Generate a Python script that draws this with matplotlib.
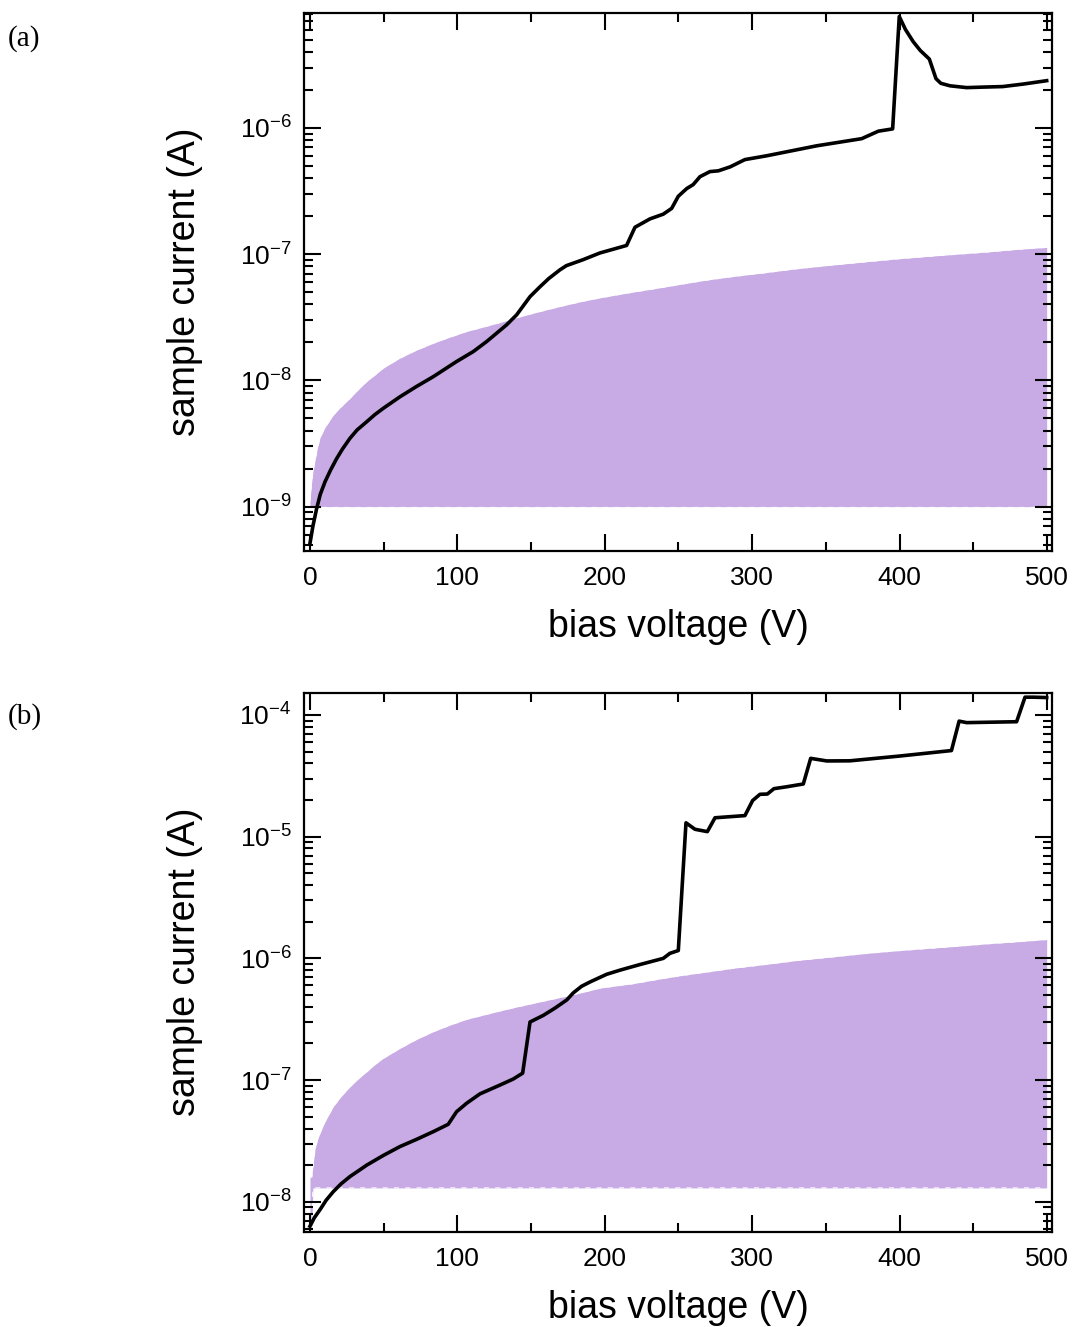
import matplotlib
matplotlib.use("Agg")
import matplotlib.pyplot as plt
from matplotlib import font_manager
from matplotlib.ticker import LogLocator, FixedLocator, FuncFormatter, NullFormatter
import numpy as np

# ---------------- data ----------------
# panel (a): measured current vs bias
va_curve = [0, 2, 4.5, 7, 10.2, 14, 18.1, 22, 27.1, 32, 38.5, 44, 49.7, 61, 72, 83.7, 99.5,
            110.8, 119.9, 133.4, 140.2, 149.3, 156, 162, 169.6, 174, 185, 196.7, 214.8,
            220.5, 230.7, 239.7, 245.4, 249.9, 255.6, 260, 264.6, 271.4, 277, 285, 295.1,
            309.8, 343.8, 374.3, 385.6, 395.3, 399.8, 404, 409.3, 414, 420.2, 424.7, 428,
            434.2, 445.5, 456.8, 470, 484, 499.8]
ia_curve = [5.1e-10, 7.0e-10, 9.6e-10, 1.25e-9, 1.57e-9, 1.95e-9, 2.4e-9, 2.85e-9, 3.47e-9,
            4.05e-9, 4.7e-9, 5.35e-9, 6.0e-9, 7.4e-9, 8.9e-9, 1.07e-8, 1.41e-8, 1.69e-8,
            2.03e-8, 2.75e-8, 3.3e-8, 4.6e-8, 5.5e-8, 6.4e-8, 7.5e-8, 8.1e-8, 9.0e-8, 1.02e-7,
            1.17e-7, 1.63e-7, 1.9e-7, 2.07e-7, 2.3e-7, 2.87e-7, 3.3e-7, 3.55e-7, 4.1e-7,
            4.5e-7, 4.56e-7, 4.9e-7, 5.6e-7, 6.0e-7, 7.2e-7, 8.2e-7, 9.4e-7, 9.8e-7, 7.6e-6,
            6.0e-6, 4.8e-6, 4.1e-6, 3.5e-6, 2.45e-6, 2.25e-6, 2.15e-6, 2.08e-6, 2.1e-6,
            2.12e-6, 2.22e-6, 2.36e-6]
# panel (a): shaded band
va_band = [0, 1, 2, 3.4, 5, 6.8, 10, 15.8, 20, 27.1, 33, 38.5, 44, 49.7, 61, 72, 83.7, 95,
           106.3, 118, 128.9, 140, 151.5, 163, 174.2, 185, 196.7, 208, 219.3, 235, 251,
           268, 285, 308, 330, 355, 377.7, 400, 420, 440, 460, 480, 499.8]
ia_band_lo = [1.0e-9] * len(va_band)
ia_band_hi = [1.1e-9, 1.5e-9, 1.9e-9, 2.3e-9, 2.9e-9, 3.5e-9, 4.2e-9, 5.3e-9, 6.0e-9,
              7.2e-9, 8.5e-9, 9.8e-9, 1.1e-8, 1.25e-8, 1.5e-8, 1.73e-8, 1.97e-8, 2.2e-8,
              2.44e-8, 2.65e-8, 2.87e-8, 3.13e-8, 3.4e-8, 3.68e-8, 3.96e-8, 4.23e-8, 4.5e-8,
              4.75e-8, 5.0e-8, 5.35e-8, 5.75e-8, 6.2e-8, 6.6e-8, 7.1e-8, 7.65e-8, 8.2e-8,
              8.7e-8, 9.2e-8, 9.6e-8, 1.0e-7, 1.04e-7, 1.09e-7, 1.13e-7]

# panel (b): measured current vs bias
vb_curve = [0, 3, 6.8, 11, 15.8, 21, 27.1, 33, 38.5, 49.7, 61, 72.4, 83.7, 93.8, 99.5, 106.3,
            115.3, 128.9, 137.9, 144.3, 149.3, 158.3, 166.2, 174.2, 178.6, 184.3, 190, 201.3,
            210.3, 223.9, 239.7, 244.2, 249.9, 255.1, 261.2, 269.6, 274.8, 295.1, 300.3,
            305.3, 310.3, 314.8, 323.4, 334.7, 339.7, 350.6, 366.3, 400.3, 435.2, 440.4,
            445.5, 479.4, 485.1, 490.7, 499.8]
ib_curve = [6.3e-9, 7.4e-9, 8.6e-9, 1.03e-8, 1.21e-8, 1.4e-8, 1.61e-8, 1.8e-8, 2.0e-8,
            2.4e-8, 2.84e-8, 3.26e-8, 3.77e-8, 4.33e-8, 5.5e-8, 6.45e-8, 7.7e-8, 9.1e-8,
            1.02e-7, 1.14e-7, 3.0e-7, 3.4e-7, 3.9e-7, 4.55e-7, 5.2e-7, 5.9e-7, 6.4e-7,
            7.4e-7, 8.0e-7, 8.9e-7, 1.0e-6, 1.1e-6, 1.16e-6, 1.30e-5, 1.15e-5, 1.10e-5,
            1.43e-5, 1.49e-5, 1.98e-5, 2.23e-5, 2.24e-5, 2.48e-5, 2.57e-5, 2.71e-5, 4.4e-5,
            4.19e-5, 4.2e-5, 4.6e-5, 5.1e-5, 8.9e-5, 8.65e-5, 8.8e-5, 1.40e-4, 1.40e-4,
            1.39e-4]
# panel (b): shaded band
vb_band = [0, 1.2, 2, 3.4, 5, 6.8, 10, 15.8, 21, 27.1, 33, 38.5, 44, 49.7, 61, 72, 83.7, 95,
           106.3, 118, 128.9, 140, 151.5, 163, 174.2, 185, 196.7, 219.3, 235, 251, 270,
           287.2, 310, 330, 355, 377.7, 400, 420, 440, 460, 480, 499.8]
ib_band_lo = [6.0e-9, 6.0e-9] + [1.3e-8] * (len(vb_band) - 2)
ib_band_hi = [1.6e-8, 1.6e-8, 1.95e-8, 2.7e-8, 3.2e-8, 3.66e-8, 4.5e-8, 6.05e-8, 7.3e-8,
              8.8e-8, 1.03e-7, 1.17e-7, 1.34e-7, 1.51e-7, 1.82e-7, 2.15e-7, 2.5e-7, 2.83e-7,
              3.16e-7, 3.43e-7, 3.7e-7, 3.98e-7, 4.27e-7, 4.58e-7, 4.9e-7, 5.25e-7, 5.7e-7,
              6.2e-7, 6.7e-7, 7.2e-7, 7.75e-7, 8.3e-7, 8.95e-7, 9.6e-7, 1.03e-6, 1.1e-6,
              1.16e-6, 1.21e-6, 1.26e-6, 1.32e-6, 1.37e-6, 1.43e-6]

x_major = [0, 100, 200, 300, 400, 500]
x_minor = [50, 150, 250, 350, 450]

# ---------------- style ----------------
available = {f.name for f in font_manager.fontManager.ttflist}
sans = 'Liberation Sans Narrow' if 'Liberation Sans Narrow' in available else 'Liberation Sans'
narrow = sans == 'Liberation Sans Narrow'
plt.rcParams['font.family'] = [sans, 'DejaVu Sans']
plt.rcParams['mathtext.fontset'] = 'custom'
plt.rcParams['mathtext.rm'] = sans
plt.rcParams['mathtext.it'] = sans
plt.rcParams['mathtext.bf'] = sans

TICK_FS = 23 if narrow else 19
LABEL_FS = 32 if narrow else 27
BAND_COLOR = '#c8aae4'

fig = plt.figure(figsize=(10.74, 13.27), dpi=100)

def log_fmt(v, pos):
    e = int(round(np.log10(v)))
    return r'$\mathregular{10^{%d}}$' % e

def style(ax, ylim):
    ax.set_yscale('log')
    ax.set_xlim(-4.07, 503.4)
    ax.set_ylim(*ylim)
    ax.xaxis.set_major_locator(FixedLocator(x_major))
    ax.xaxis.set_minor_locator(FixedLocator(x_minor))
    ax.yaxis.set_major_locator(LogLocator(base=10, numticks=20))
    ax.yaxis.set_minor_locator(LogLocator(base=10, subs=np.arange(2, 10), numticks=20))
    ax.yaxis.set_major_formatter(FuncFormatter(log_fmt))
    ax.yaxis.set_minor_formatter(NullFormatter())
    ax.tick_params(which='both', direction='in', top=True, right=True, width=1.5,
                   labelsize=TICK_FS, colors='black')
    ax.tick_params(axis='x', which='major', length=12, pad=11)
    ax.tick_params(axis='x', which='minor', length=6.5)
    ax.tick_params(axis='y', which='major', length=12.5, pad=9)
    ax.tick_params(axis='y', which='minor', length=6.5)
    for s in ax.spines.values():
        s.set_linewidth(1.6)
    ax.set_xlabel('bias voltage (V)', fontsize=LABEL_FS, labelpad=14)
    ax.set_ylabel('sample current (A)', fontsize=LABEL_FS, labelpad=26)

def draw_band(ax, v, lo, hi):
    ax.fill_between(v, lo, hi, color=BAND_COLOR, linewidth=0, zorder=1)
    ax.plot(v, hi, color='white', lw=0.9, ls=(0, (4, 5)), alpha=0.9, zorder=1.5)
    ax.plot(v, lo, color='white', lw=0.9, ls=(0, (4, 5)), alpha=0.9, zorder=1.5)

# panel (a)
ax1 = fig.add_axes([0.283, 0.585, 0.6965, 0.4054])
draw_band(ax1, va_band, ia_band_lo, ia_band_hi)
ax1.plot(va_curve, ia_curve, color='black', lw=2.6, zorder=3, solid_joinstyle='round')
style(ax1, (10 ** -9.349, 10 ** -5.089))

# panel (b)
ax2 = fig.add_axes([0.283, 0.0718, 0.6965, 0.4062])
draw_band(ax2, vb_band, ib_band_lo, ib_band_hi)
ax2.plot(vb_curve, ib_curve, color='black', lw=2.6, zorder=3, solid_joinstyle='round')
style(ax2, (10 ** -8.246, 10 ** -3.817))

fig.text(0.0075, 0.971, '(a)', fontsize=21, family=['Liberation Serif', 'DejaVu Serif'],
         va='center', ha='left')
fig.text(0.0075, 0.460, '(b)', fontsize=21, family=['Liberation Serif', 'DejaVu Serif'],
         va='center', ha='left')

fig.savefig('out.png', dpi=100)
